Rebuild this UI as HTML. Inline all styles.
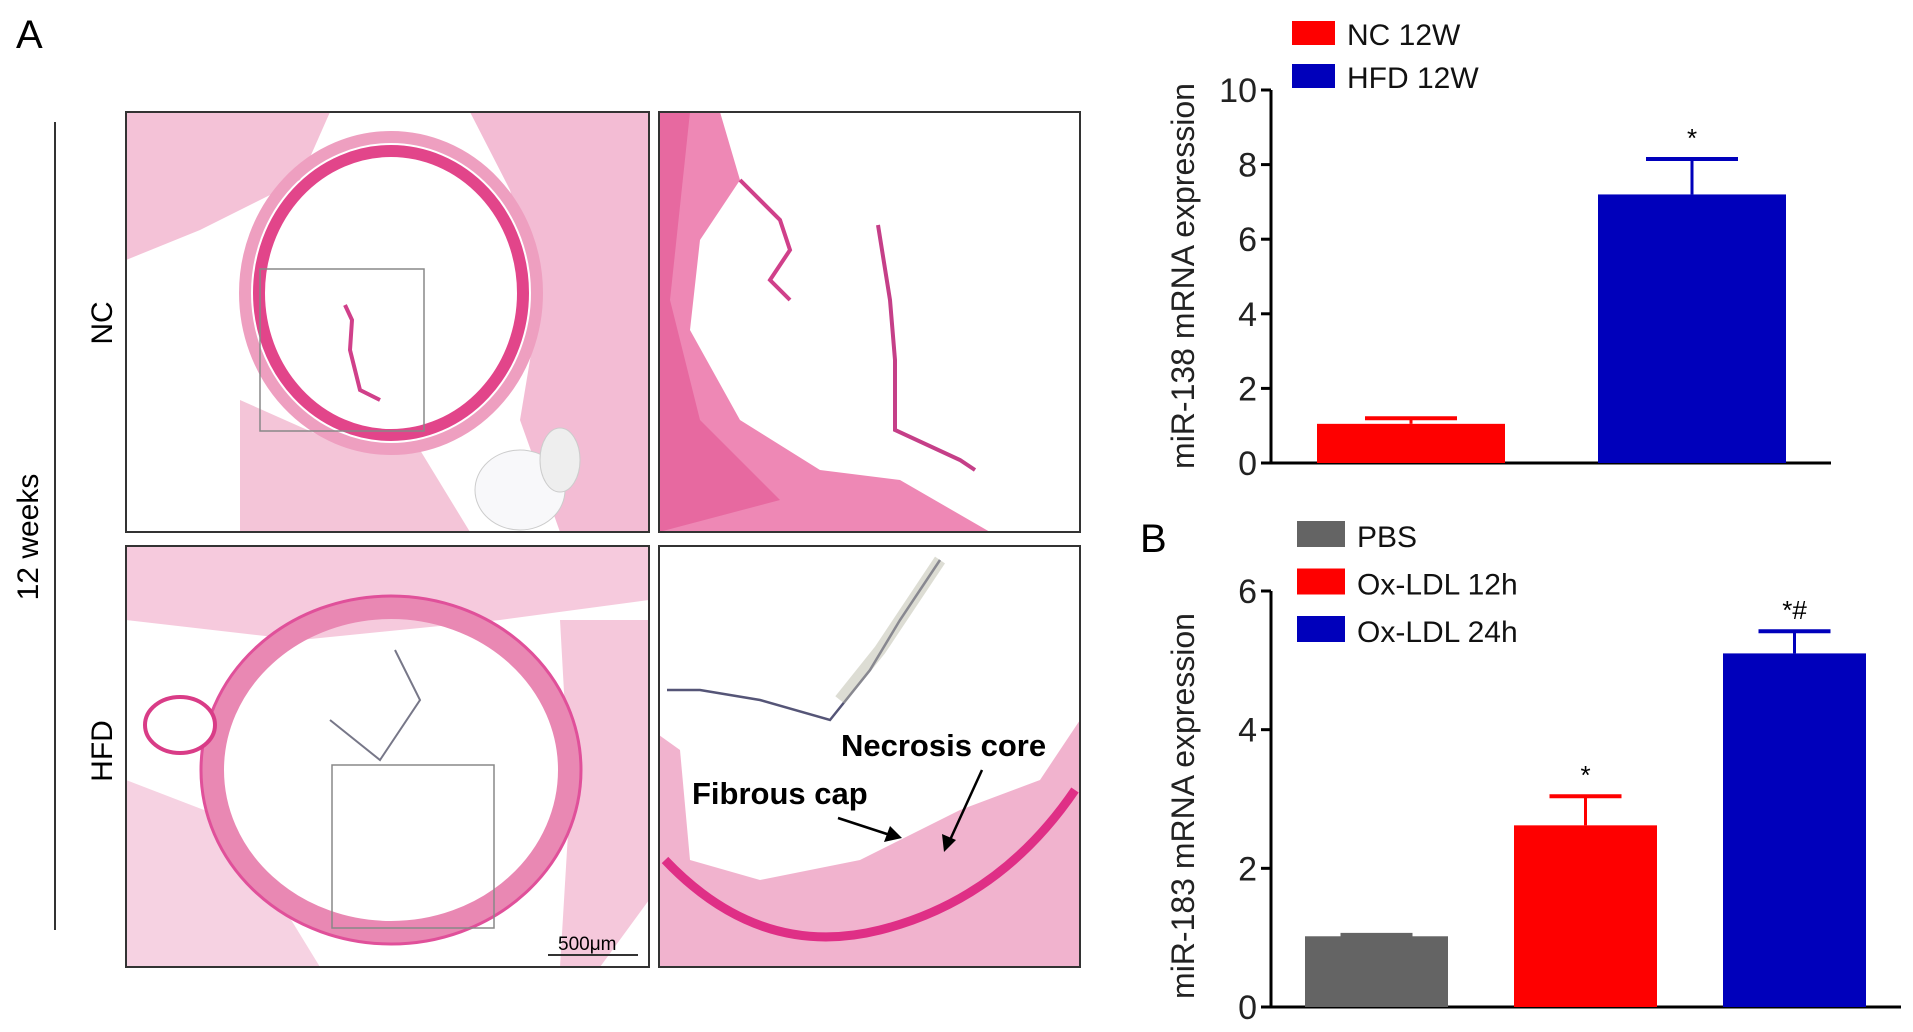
<!DOCTYPE html>
<html><head><meta charset="utf-8"><style>
html,body{margin:0;padding:0;background:#fff;width:1913px;height:1032px;overflow:hidden}
svg{display:block}
text{font-family:"Liberation Sans",Arial,sans-serif}
</style></head><body>
<svg id="fig" width="1913" height="1032" viewBox="0 0 1913 1032">
<text x="16" y="48" font-size="40">A</text>
<line x1="55" y1="122" x2="55" y2="930" stroke="#333" stroke-width="2"/>
<text transform="translate(38,537) rotate(-90)" text-anchor="middle" font-size="30">12 weeks</text>
<text transform="translate(112,323) rotate(-90)" text-anchor="middle" font-size="30">NC</text>
<text transform="translate(112,751) rotate(-90)" text-anchor="middle" font-size="30">HFD</text>

<g>
<clipPath id="c1"><rect x="126" y="112" width="523" height="420"/></clipPath>
<g clip-path="url(#c1)">
<rect x="126" y="112" width="523" height="420" fill="#fff"/>
<path d="M126,112 L330,112 L300,180 L200,230 L126,260Z" fill="#e985b0" opacity="0.5"/>
<path d="M470,112 L649,112 L649,532 L560,532 L520,420 L540,300 L510,190Z" fill="#e46aa0" opacity="0.45"/>
<path d="M240,400 L330,440 L420,450 L470,532 L240,532Z" fill="#e77ea9" opacity="0.45"/>
<ellipse cx="391" cy="293" rx="132" ry="142" fill="none" stroke="#e2458a" stroke-width="12"/>
<ellipse cx="391" cy="293" rx="146" ry="156" fill="none" stroke="#ee9fc0" stroke-width="12"/>
<path d="M345,305 L352,320 L350,350 L360,390 L380,400" fill="none" stroke="#d0408a" stroke-width="4"/>
<ellipse cx="520" cy="490" rx="45" ry="40" fill="#f8f8fa" stroke="#ccc"/>
<ellipse cx="560" cy="460" rx="20" ry="32" fill="#eee" stroke="#ccc"/>
<rect x="260" y="269" width="164" height="162" fill="none" stroke="#888" stroke-width="1.5"/>
</g>
<rect x="126" y="112" width="523" height="420" fill="none" stroke="#333" stroke-width="2"/>
</g>

<g>
<clipPath id="c2"><rect x="659" y="112" width="421" height="420"/></clipPath>
<g clip-path="url(#c2)">
<rect x="659" y="112" width="421" height="420" fill="#fff"/>
<path d="M659,112 L720,112 L740,180 L700,240 L690,330 L740,420 L820,470 L900,480 L990,532 L659,532Z" fill="#e8609c" opacity="0.75"/>
<path d="M659,112 L690,112 L670,300 L700,420 L780,500 L659,532Z" fill="#e04a8c" opacity="0.5"/>
<path d="M740,180 L780,220 L790,250 L770,280 L790,300" fill="none" stroke="#d0408a" stroke-width="4"/>
<path d="M878,225 L890,300 L895,360 L895,430 L960,460 L975,470" fill="none" stroke="#c53f88" stroke-width="4"/>
</g>
<rect x="659" y="112" width="421" height="420" fill="none" stroke="#333" stroke-width="2"/>
</g>

<g>
<clipPath id="c3"><rect x="126" y="546" width="523" height="421"/></clipPath>
<g clip-path="url(#c3)">
<rect x="126" y="546" width="523" height="421" fill="#fff"/>
<path d="M126,546 L649,546 L649,600 L500,620 L300,640 L126,620Z" fill="#ea8ab3" opacity="0.45"/>
<path d="M126,780 L230,820 L320,967 L126,967Z" fill="#ec9cbf" opacity="0.45"/>
<path d="M560,620 L649,620 L649,900 L600,967 L560,967 L570,800Z" fill="#e986b0" opacity="0.45"/>
<ellipse cx="391" cy="770" rx="178" ry="162" fill="none" stroke="#e988b3" stroke-width="22"/>
<ellipse cx="391" cy="770" rx="190" ry="174" fill="none" stroke="#e0509a" stroke-width="3"/>
<ellipse cx="180" cy="725" rx="35" ry="28" fill="#fff" stroke="#d93c87" stroke-width="4"/>
<path d="M395,650 L420,700 L380,760 L330,720" fill="none" stroke="#778" stroke-width="2"/>
<rect x="332" y="765" width="162" height="163" fill="none" stroke="#888" stroke-width="1.5"/>
<line x1="548" y1="955" x2="638" y2="955" stroke="#333" stroke-width="2"/>
<text x="558" y="950" font-size="19" font-family="Liberation Serif,serif">500μm</text>
</g>
<rect x="126" y="546" width="523" height="421" fill="none" stroke="#333" stroke-width="2"/>
</g>

<g>
<clipPath id="c4"><rect x="659" y="546" width="421" height="421"/></clipPath>
<g clip-path="url(#c4)">
<rect x="659" y="546" width="421" height="421" fill="#fff"/>
<path d="M659,735 L680,750 L690,860 L760,880 L860,860 L960,810 L1040,780 L1080,720 L1080,967 L659,967Z" fill="#efa6c6" opacity="0.85"/>
<path d="M665,860 Q760,960 880,930 Q1000,900 1075,790" fill="none" stroke="#df2f86" stroke-width="9"/>
<path d="M667,690 L700,690 L760,700 L830,720 L870,670 L900,620 L940,560" fill="none" stroke="#557" stroke-width="2.5"/>
<path d="M840,700 L880,650 L940,560" fill="none" stroke="#bba" stroke-width="12" opacity="0.5"/>
<text x="692" y="804" font-size="31" font-weight="bold">Fibrous cap</text>
<text x="841" y="756" font-size="31" font-weight="bold">Necrosis core</text>
<line x1="838" y1="818" x2="890" y2="835" stroke="#000" stroke-width="2.5"/>
<polygon points="902,838 884,842 890,826" fill="#000"/>
<line x1="982" y1="770" x2="950" y2="840" stroke="#000" stroke-width="2.5"/>
<polygon points="944,852 942,834 956,840" fill="#000"/>
</g>
<rect x="659" y="546" width="421" height="421" fill="none" stroke="#333" stroke-width="2"/>
</g>

<text x="1140" y="552" font-size="40">B</text>
<g id="chartA"></g>
<g id="chartB"></g>
</svg>
<script>
const catsA = ["NC 12W", "HFD 12W"];
const valsA = [1.05, 7.2];
const errA = [0.15, 0.95];
const colorsA = ["#fe0000", "#0000bb"];
const ticksA = [0, 2, 4, 6, 8, 10];
const sigA = ["", "*"];

const catsB = ["PBS", "Ox-LDL 12h", "Ox-LDL 24h"];
const valsB = [1.02, 2.62, 5.1];
const errB = [0.02, 0.42, 0.32];
const colorsB = ["#646464", "#fe0000", "#0000bb"];
const ticksB = [0, 2, 4, 6];
const sigB = ["", "*", "*#"];

const NS = "http://www.w3.org/2000/svg";
function mk(parent, tag, attrs){const e=document.createElementNS(NS,tag);for(const k in attrs)e.setAttribute(k,attrs[k]);parent.appendChild(e);return e;}

function drawChart(g, cfg){
  const y = v => cfg.y0 - v / cfg.max * (cfg.y0 - cfg.yTop);
  const ax = mk(g,"line",{x1:cfg.ax,y1:cfg.yTop,x2:cfg.ax,y2:cfg.y0,stroke:"#000","stroke-width":3});
  
  
  const bx = mk(g,"line",{x1:cfg.ax-10,y1:cfg.y0,x2:cfg.axEnd,y2:cfg.y0,stroke:"#000","stroke-width":3});
  
  
  cfg.ticks.forEach(t=>{
    const tl = mk(g,"line",{x1:cfg.ax-10,y1:y(t),x2:cfg.ax,y2:y(t),stroke:"#000","stroke-width":3});
    
    
    const tx = mk(g,"text",{x:cfg.ax-14,y:y(t)+12,"text-anchor":"end","font-size":34,fill:"#222"});
    tx.textContent = t;
    
    
  });
  const yl = mk(g,"text",{transform:`translate(${cfg.ylx},${cfg.yly}) rotate(-90)`,"text-anchor":"middle","font-size":32,fill:"#222"});
  yl.textContent = cfg.ylabel;
  
  
  cfg.vals.forEach((v,i)=>{
    const x0 = cfg.x0 + i*cfg.step, cx = x0 + cfg.bw/2;
    const top = y(v + cfg.err[i]);
    const el = mk(g,"line",{x1:cx,y1:y(v),x2:cx,y2:top,stroke:cfg.colors[i],"stroke-width":3});
    
    
    const ec = mk(g,"line",{x1:cx-cfg.cap,y1:top,x2:cx+cfg.cap,y2:top,stroke:cfg.colors[i],"stroke-width":4});
    
    
    const r = mk(g,"rect",{x:x0,y:y(v),width:cfg.bw,height:cfg.y0-y(v),fill:cfg.colors[i]});
    
    
    if(cfg.sig[i]){
      const s = mk(g,"text",{x:cx,y:top-12,"text-anchor":"middle","font-size":26,fill:"#000"});
      s.textContent = cfg.sig[i];
      
      
    }
    const ly = cfg.legY + i*cfg.legStep;
    const sw = mk(g,"rect",{x:cfg.legX,y:ly,width:cfg.legW,height:cfg.legH,fill:cfg.colors[i]});
    
    
    const lt = mk(g,"text",{x:cfg.legX+cfg.legW+12,y:ly+cfg.legH,"font-size":30,fill:"#111"});
    lt.textContent = cfg.cats[i];
    
    
  });
}
drawChart(document.getElementById('chartA'),{cats:catsA,vals:valsA,err:errA,colors:colorsA,ticks:ticksA,sig:sigA,
  max:10,y0:463,yTop:90,ax:1271,axEnd:1831,x0:1317,bw:188,step:281,cap:46,
  ylabel:"miR-138 mRNA expression",ylx:1194,yly:276,legX:1292,legY:21,legStep:43,legW:43,legH:24});
drawChart(document.getElementById('chartB'),{cats:catsB,vals:valsB,err:errB,colors:colorsB,ticks:ticksB,sig:sigB,
  max:6,y0:1007,yTop:591,ax:1271,axEnd:1901,x0:1305,bw:143,step:209,cap:36,
  ylabel:"miR-183 mRNA expression",ylx:1194,yly:806,legX:1297,legY:521,legStep:47.5,legW:48,legH:26});
</script>
</body></html>
